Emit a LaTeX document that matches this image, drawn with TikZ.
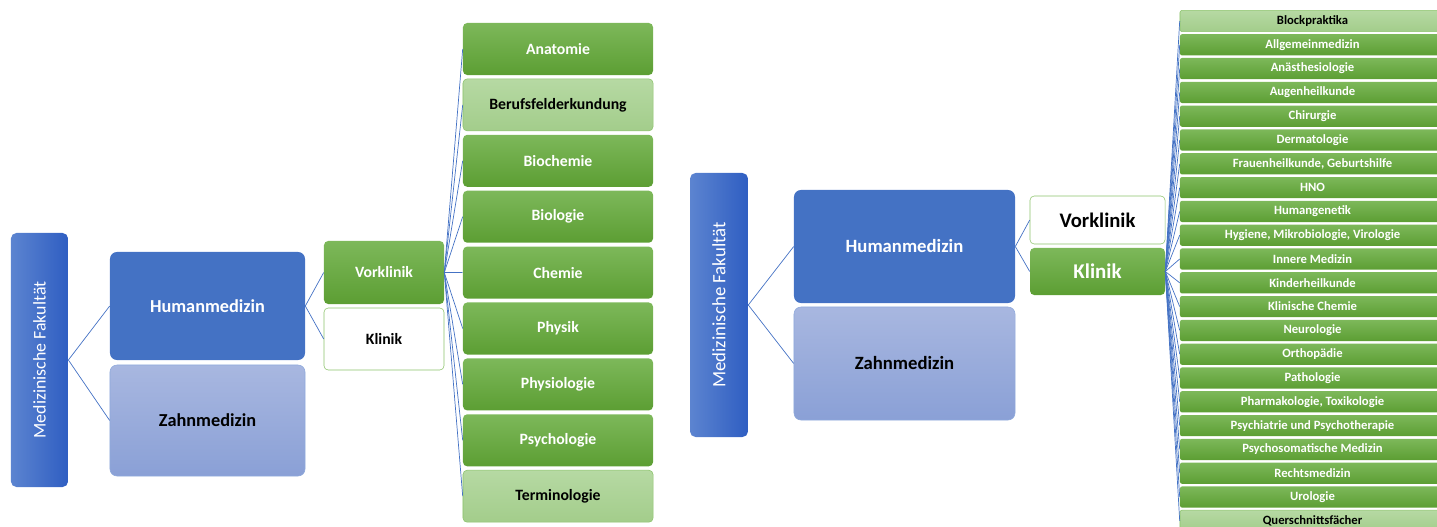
\documentclass[tikz,border=0pt]{standalone}
\usepackage{fontspec}
\setmainfont{Carlito}
\usetikzlibrary{positioning}
\definecolor{blau}{HTML}{4472C4}
\definecolor{blauhell}{HTML}{5C84D0}
\definecolor{blaudunkel}{HTML}{2F5EC2}
\definecolor{zahnoben}{HTML}{A8B7E0}
\definecolor{zahnunten}{HTML}{8AA0D6}
\definecolor{gruenoben}{HTML}{7DB85A}
\definecolor{gruenunten}{HTML}{5C9E33}
\definecolor{hellgruenoben}{HTML}{B6D9A3}
\definecolor{hellgruenunten}{HTML}{A3CD8B}
\definecolor{gruenrand}{HTML}{8CC36B}
\tikzstyle{fakultaet} = [rectangle, rounded corners=4pt, left color=blauhell, right color=blaudunkel, text=white, inner sep=0pt]
\tikzstyle{human} = [rectangle, rounded corners=5pt, fill=blau, text=white, font=\bfseries]
\tikzstyle{zahn} = [rectangle, rounded corners=5pt, top color=zahnoben, bottom color=zahnunten, draw=blau!60, text=black, font=\bfseries]
\tikzstyle{gruen} = [rectangle, rounded corners=3pt, top color=gruenoben, bottom color=gruenunten, text=white, font=\bfseries]
\tikzstyle{hellgruen} = [rectangle, rounded corners=3pt, top color=hellgruenoben, bottom color=hellgruenunten, draw=gruenrand, text=black, font=\bfseries]
\tikzstyle{weiss} = [rectangle, rounded corners=3pt, fill=white, draw=gruenrand, text=black, font=\bfseries]
\tikzstyle{linie} = [draw=blau, line width=0.5pt]

\begin{document}
\begin{tikzpicture}[x=0.025cm,y=-0.025cm]
\useasboundingbox (0,0) rectangle (1437,526);
\clip (0,0) rectangle (1437,526);
% linke Seite
\node at (39.5,360) [fakultaet, minimum width=1.43cm, minimum height=6.35cm, font=\fontsize{12.7}{15}\selectfont] (fak1) {\rotatebox{90}{Medizinische Fakultät}};
\node at (207.5,306) [human, minimum width=4.875cm, minimum height=2.7cm, font=\fontsize{13}{15}\selectfont\bfseries] (hm1) {Humanmedizin};
\node at (207.5,420.5) [zahn, minimum width=4.875cm, minimum height=2.775cm, font=\fontsize{13}{15}\selectfont\bfseries] (zm1) {Zahnmedizin};
\node at (384,272.5) [gruen, minimum width=3cm, minimum height=1.575cm, font=\fontsize{11.2}{13}\selectfont\bfseries] (vk1) {Vorklinik};
\node at (384,339) [weiss, minimum width=3cm, minimum height=1.55cm, font=\fontsize{11.2}{13}\selectfont\bfseries] (kl1) {Klinik};
\draw [linie] (fak1.east) -- (hm1.west);
\draw [linie] (fak1.east) -- (zm1.west);
\draw [linie] (hm1.east) -- (vk1.west);
\draw [linie] (hm1.east) -- (kl1.west);
\foreach \fach/\stil [count=\i from 0] in {Anatomie/gruen, Berufsfelderkundung/hellgruen, Biochemie/gruen, Biologie/gruen, Chemie/gruen, Physik/gruen, Physiologie/gruen, Psychologie/gruen, Terminologie/hellgruen}
{
	\node at (558,{49+55.9*\i}) [\stil, minimum width=4.75cm, minimum height=1.3cm, font=\fontsize{11.2}{13}\selectfont\bfseries] (vf\i) {\fach};
	\draw [linie] (vk1.east) -- (vf\i.west);
}
% rechte Seite
\node at (719,305) [fakultaet, minimum width=1.45cm, minimum height=6.6cm, font=\fontsize{13.4}{15}\selectfont] (fak2) {\rotatebox{90}{Medizinische Fakultät}};
\node at (904.5,246.5) [human, minimum width=5.525cm, minimum height=2.825cm, font=\fontsize{13.3}{15}\selectfont\bfseries] (hm2) {Humanmedizin};
\node at (904.5,363.5) [zahn, minimum width=5.525cm, minimum height=2.825cm, font=\fontsize{13.3}{15}\selectfont\bfseries] (zm2) {Zahnmedizin};
\node at (1097.5,220) [weiss, minimum width=3.375cm, minimum height=1.2cm, font=\fontsize{14.7}{17}\selectfont\bfseries] (vk2) {Vorklinik};
\node at (1097.5,271.5) [gruen, minimum width=3.375cm, minimum height=1.175cm, font=\fontsize{14.9}{17}\selectfont\bfseries] (kl2) {Klinik};
\draw [linie] (fak2.east) -- (hm2.west);
\draw [linie] (fak2.east) -- (zm2.west);
\draw [linie] (hm2.east) -- (vk2.west);
\draw [linie] (hm2.east) -- (kl2.west);
\foreach \fach/\stil [count=\i from 0] in {Blockpraktika/hellgruen, Allgemeinmedizin/gruen, Anästhesiologie/gruen, Augenheilkunde/gruen, Chirurgie/gruen, Dermatologie/gruen, {Frauenheilkunde, Geburtshilfe}/gruen, HNO/gruen, Humangenetik/gruen, {Hygiene, Mikrobiologie, Virologie}/gruen, Innere Medizin/gruen, Kinderheilkunde/gruen, Klinische Chemie/gruen, Neurologie/gruen, Orthopädie/gruen, Pathologie/gruen, {Pharmakologie, Toxikologie}/gruen, Psychiatrie und Psychotherapie/gruen, Psychosomatische Medizin/gruen, Rechtsmedizin/gruen, Urologie/gruen, Querschnittsfächer/hellgruen}
{
	\node at (1312.5,{21+23.8*\i}) [\stil, rounded corners=1.5pt, minimum width=6.625cm, minimum height=0.53cm, inner sep=0pt, font=\fontsize{9}{10}\selectfont\bfseries] (kf\i) {\fach};
	\draw [linie] (kl2.east) -- (kf\i.west);
}
\end{tikzpicture}
\end{document}
